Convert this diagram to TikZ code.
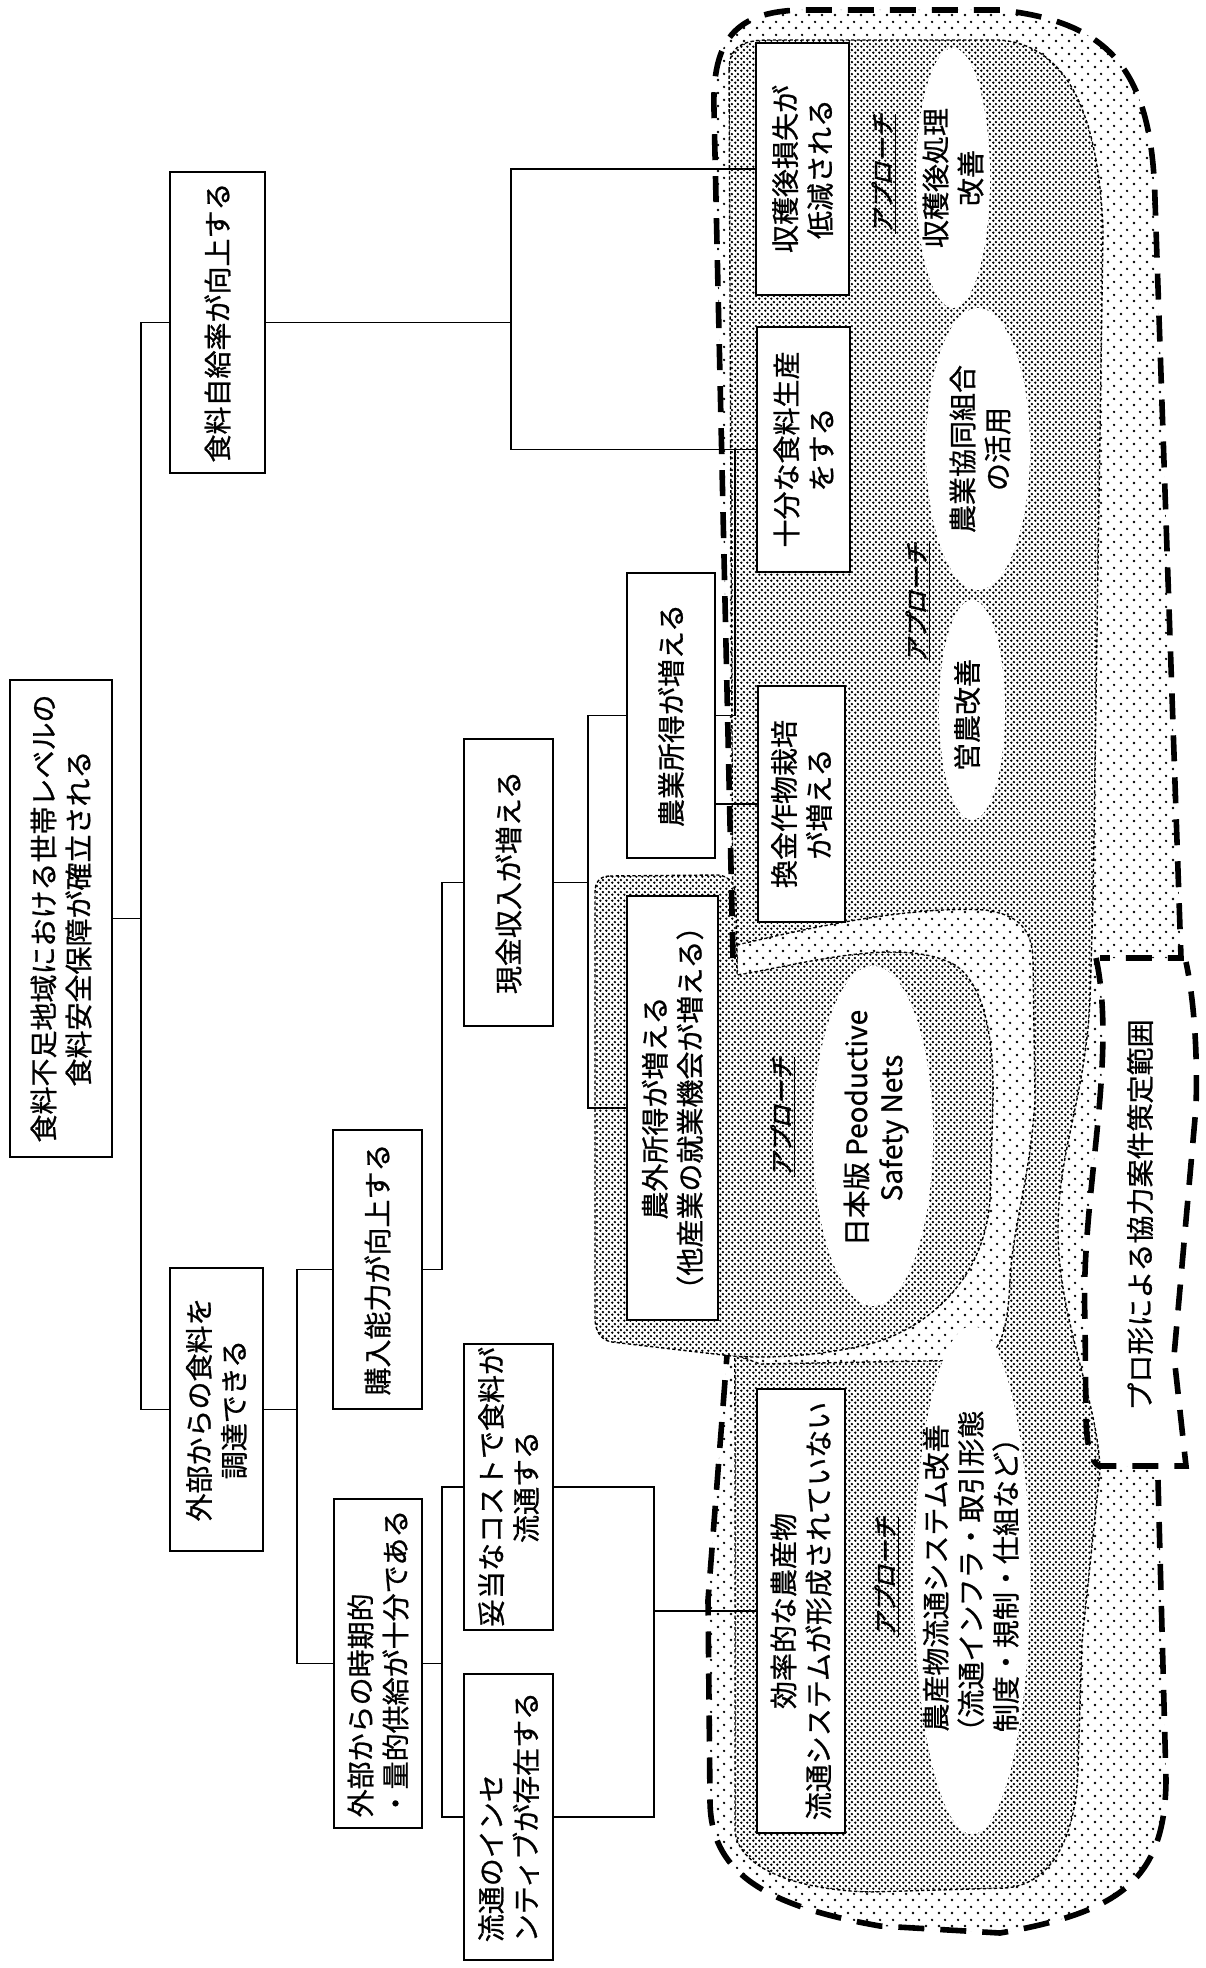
\documentclass[tikz,border=0pt]{standalone}
\usepackage{fontspec}
\setmainfont{Noto Sans CJK JP}[FakeBold=0.8]
\newfontfamily\apfam[FakeSlant=0.25, FakeBold=2]{Noto Sans CJK JP}
\newcommand\boxfont{\fontsize{14pt}{17.5pt}\selectfont}
\newcommand\apfont{\apfam\fontsize{12pt}{14pt}\selectfont}
\usetikzlibrary{patterns}
\pgfdeclarepatternformonly{sparsedots}{\pgfqpoint{0pt}{0pt}}{\pgfqpoint{6.5pt}{6.5pt}}{\pgfqpoint{6.5pt}{6.5pt}}{%
  \pgfpathcircle{\pgfqpoint{1.625pt}{1.625pt}}{0.7pt}%
  \pgfpathcircle{\pgfqpoint{4.875pt}{4.875pt}}{0.7pt}%
  \pgfusepath{fill}}
\pgfdeclarepatternformonly{densedots}{\pgfqpoint{0pt}{0pt}}{\pgfqpoint{2.8pt}{2.8pt}}{\pgfqpoint{2.8pt}{2.8pt}}{%
  \pgfpathcircle{\pgfqpoint{0.7pt}{0.7pt}}{0.7pt}%
  \pgfpathcircle{\pgfqpoint{2.1pt}{2.1pt}}{0.7pt}%
  \pgfusepath{fill}}
\tikzset{
  box/.style={draw, line width=1.3pt, fill=white, rotate=90, inner sep=0pt, align=center, font=\boxfont},
  boxl/.style={box, align=left},
  conn/.style={line width=0.9pt},
  bigdash/.style={line width=2.8pt, dash pattern=on 13pt off 8pt},
  regbord/.style={line width=0.7pt, dash pattern=on 1.6pt off 1.2pt},
  sparsefill/.style={preaction={fill=white}, pattern=sparsedots},
  densefill/.style={preaction={fill=white}, pattern=densedots},
  etext/.style={rotate=90, align=center, inner sep=0pt, font=\boxfont},
  aplabel/.style={rotate=90, inner sep=0pt, font=\apfont}
}
\begin{document}
\begin{tikzpicture}[x=0.5pt, y=-0.5pt]
\useasboundingbox (0,0) rectangle (1205,1968);
\fill[white] (0,0) rectangle (1205,1968);

% big sparse region
\path[sparsefill] (733,958) -- (714,110) .. controls (712,40) and (735,12) .. (800,10) -- (1000,10)
  .. controls (1110,22) and (1152,70) .. (1155,200) -- (1181,958) -- (1096,958)
  .. controls (1118,1060) and (1080,1200) .. (1085,1320) -- (1086,1420)
  .. controls (1087,1450) and (1092,1462) .. (1099,1466) -- (1158,1466) -- (1166,1780)
  .. controls (1165,1880) and (1120,1912) .. (1000,1933) -- (880,1926)
  .. controls (760,1905) and (710,1870) .. (710,1800) -- (708,1600) -- (727,1355) -- cycle;

% dense big region
\path[densefill, draw, regbord] (729,70) .. controls (729,45) and (745,40) .. (770,40) -- (1000,40)
  .. controls (1060,45) and (1098,100) .. (1103,230) -- (1093,900) -- (1090,1000)
  .. controls (1085,1100) and (1058,1150) .. (1058,1230)
  .. controls (1058,1320) and (1098,1400) .. (1100,1470) -- (1082,1641) -- (1078,1769)
  .. controls (1076,1840) and (1050,1885) .. (1005,1888) -- (870,1892)
  .. controls (800,1890) and (740,1870) .. (735,1832) -- (735,1420) -- cycle;

% sparse ring around Safety Nets
\path[sparsefill, draw, regbord] (737,945) .. controls (780,935) and (900,905) .. (985,910)
  .. controls (1020,915) and (1032,930) .. (1033,960) -- (1035,1100)
  .. controls (1030,1180) and (1012,1230) .. (1010,1280)
  .. controls (1008,1330) and (1000,1355) .. (980,1360) -- (760,1364) -- (737,1355) -- cycle;

% dense middle region
\path[densefill, draw, regbord] (610,876) -- (718,875) .. controls (730,876) and (736,885) .. (736,900)
  -- (737,975) .. controls (800,965) and (900,935) .. (955,965)
  .. controls (985,985) and (994,1040) .. (993,1100) -- (990,1200)
  .. controls (985,1270) and (940,1320) .. (880,1341)
  .. controls (830,1356) and (760,1360) .. (723,1355) -- (612,1342)
  .. controls (600,1340) and (595,1330) .. (595,1318) -- (595,892)
  .. controls (595,882) and (600,876) .. (610,876) -- cycle;

% white ellipses
\fill[white] (953,178) ellipse [x radius=18.5pt, y radius=65pt];
\fill[white] (978,449) ellipse [x radius=26pt, y radius=70.5pt];
\fill[white] (972,710) ellipse [x radius=16.5pt, y radius=55pt];
\fill[white] (873,1136) ellipse [x radius=30pt, y radius=85pt];
\fill[white] (972,1580) ellipse [x radius=29pt, y radius=127pt];

% thick dashed outlines
\draw[bigdash] (733,958) -- (714,110) .. controls (712,40) and (735,12) .. (800,10) -- (1000,10)
  .. controls (1110,22) and (1152,70) .. (1155,200) -- (1181,958) -- (1100,958);
\draw[bigdash] (1096,958) .. controls (1118,1060) and (1080,1200) .. (1085,1320) -- (1086,1420)
  .. controls (1087,1450) and (1092,1462) .. (1099,1466) -- (1186,1466) -- (1174,1356)
  -- (1196,1107) .. controls (1198,1040) and (1192,990) .. (1186,962);
\draw[bigdash] (1158,1480) -- (1166,1780) .. controls (1165,1880) and (1120,1912) .. (1000,1933)
  -- (880,1926) .. controls (760,1905) and (710,1870) .. (710,1800) -- (708,1600) -- (727,1355);

% boxes
\node[box, minimum width=238.5pt, minimum height=51pt] (root) at (61,918.5) {食料不足地域における世帯レベルの\\食料安全保障が確立される};
\node[box, minimum width=150.5pt, minimum height=47.5pt] (A) at (217.5,322.5) {食料自給率が向上する};
\node[box, minimum width=141.5pt, minimum height=46.5pt] (J) at (216.5,1409.5) {外部からの食料を\\調達できる};
\node[box, minimum width=139.5pt, minimum height=44.5pt] (K) at (377.5,1269.5) {購入能力が向上する};
\node[boxl, minimum width=164.5pt, minimum height=44pt] (L) at (378,1663.5) {外部からの時期的\\・量的供給が十分である};
\node[box, minimum width=143.5pt, minimum height=44.5pt] (M) at (508.5,882.5) {現金収入が増える};
\node[box, minimum width=143pt, minimum height=44.5pt] (H) at (508.5,1487) {妥当なコストで食料が\\流通する};
\node[boxl, minimum width=143pt, minimum height=44.5pt] (I) at (508.5,1817) {流通のインセ\\ンティブが存在する};
\node[box, minimum width=142.5pt, minimum height=44pt] (D) at (671,715.5) {農業所得が増える};
\node[box, minimum width=212pt, minimum height=45.5pt] (F) at (672.5,1108) {農外所得が増える\\（他産業の就業機会が増える）};
\node[box, minimum width=126pt, minimum height=46.5pt] (B) at (802.5,169) {収穫後損失が\\低減される};
\node[box, minimum width=122.5pt, minimum height=46.5pt] (C) at (803.5,449.5) {十分な食料生産\\をする};
\node[box, minimum width=118pt, minimum height=43.5pt] (E) at (801.5,804) {換金作物栽培\\が増える};
\node[box, minimum width=222pt, minimum height=44pt] (G) at (801,1611) {効率的な農産物\\流通システムが形成されていない};

% bus coordinates
\coordinate (bR) at (141,0);
\coordinate (bA) at (511,0);
\coordinate (bDC) at (735,0);
\coordinate (bM) at (588,0);
\coordinate (bK) at (442,0);
\coordinate (bJ) at (297,0);
\coordinate (bH) at (654,0);

% connectors
\draw[conn] (root.south) -- (root.south -| bR);
\draw[conn] (A.north) -- (A.north -| bR) -- (J.north -| bR) -- (J.north);
\draw[conn] (A.south) -- (A.south -| bA);
\draw[conn] (B.north) -- (B.north -| bA) -- (C.north -| bA) -- (C.north);
\draw[conn] (D.south) -- (D.south -| bDC) -- (C.north -| bDC);
\draw[conn] (E.north) -- (E.north -| D.south);
\draw[conn] (M.south) -- (M.south -| bM);
\draw[conn] (D.north) -- (D.north -| bM) -- (F.north -| bM) -- (F.north);
\draw[conn] (K.south) -- (K.south -| bK) -- (M.north -| bK) -- (M.north);
\draw[conn] (J.south) -- (J.south -| bJ);
\draw[conn] (K.north) -- (K.north -| bJ) -- (L.north -| bJ) -- (L.north);
\draw[conn] (L.south) -- (L.south -| bK);
\draw[conn] (H.north) -- (H.north -| bK) -- (I.north -| bK) -- (I.north);
\draw[conn] (G.north) -- (G.north -| bH);
\draw[conn] (H.south) -- (H.south -| bH) -- (I.south -| bH) -- (I.south);

% ellipse texts
\node[etext] (e1) at (953,178) {収穫後処理\\改善};
\node[etext] (e2) at (980,449) {農業協同組合\\の活用};
\node[etext] (e3) at (967,715) {営農改善};
\node[etext] (e4) at (876,1128) {日本版 Peoductive\\Safety Nets};
\node[etext] (e5) at (971,1578) {農産物流通システム改善\\（流通インフラ・取引形態\\制度・規制・仕組など）};

% approach labels
\node[aplabel] (ap1) at (884,174) {\underline{アプローチ}};
\node[aplabel] (ap2) at (918,603) {\underline{アプローチ}};
\node[aplabel] (ap3) at (783,1117) {\underline{アプローチ}};
\node[aplabel] (ap4) at (887,1577) {\underline{アプローチ}};

% project scope label
\node[etext] (scope) at (1140,1215) {プロ形による協力案件策定範囲};
\end{tikzpicture}
\end{document}
